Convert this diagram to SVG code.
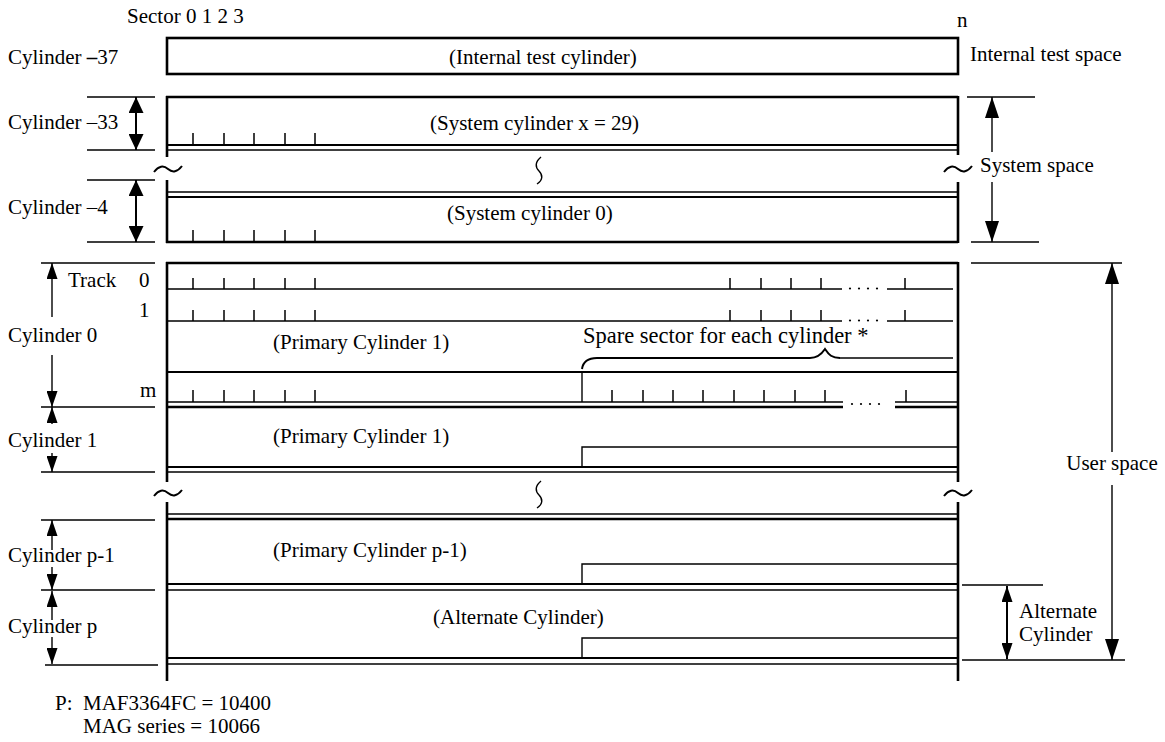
<svg xmlns="http://www.w3.org/2000/svg" width="1165" height="742" viewBox="0 0 1165 742">
<style>
.t{font-family:"Liberation Serif","Times New Roman",serif;font-size:21px;fill:#000}
.k{stroke:#000;stroke-width:2.6;fill:none}
.m{stroke:#000;stroke-width:2;fill:none}
.n{stroke:#000;stroke-width:1.4;fill:none}
.tk{stroke:#000;stroke-width:1.5;fill:none}
.dot{fill:#000}
</style>
<defs>
<marker id="aB" markerUnits="userSpaceOnUse" markerWidth="16" markerHeight="15" refX="16" refY="7.5" orient="auto-start-reverse"><path d="M0,0 L16,7.5 L0,15 z" fill="#000"/></marker>
<marker id="aS" markerUnits="userSpaceOnUse" markerWidth="16" markerHeight="11" refX="16" refY="5.5" orient="auto-start-reverse"><path d="M0,0 L16,5.5 L0,11 z" fill="#000"/></marker>
<marker id="aR" markerUnits="userSpaceOnUse" markerWidth="21" markerHeight="14" refX="21" refY="7" orient="auto-start-reverse"><path d="M0,0 L21,7 L0,14 z" fill="#000"/></marker>
</defs>
<rect width="1165" height="742" fill="#fff"/>

<g id="header">
<text class="t" x="127" y="23">Sector 0 1 2 3</text>
<text class="t" x="957" y="27">n</text>
</g>

<g id="cyl-37">
<rect class="k" x="167" y="38" width="791" height="36"/>
<text class="t" x="8" y="64">Cylinder <tspan font-weight="bold">–</tspan>37</text>
<text class="t" x="449" y="64">(Internal test cylinder)</text>
<text class="t" x="970" y="61">Internal test space</text>
</g>

<g id="cyl-33">
<path class="k" d="M166,97 H958 M167,96 V157 M958,96 V155"/>
<path class="m" d="M166,145 H958"/>
<path class="n" d="M166,150 H958"/>
<path class="tk" d="M193,133 V145 M224,133 V145 M254,133 V145 M285,133 V145 M315,133 V145"/>
<text class="t" x="8" y="129">Cylinder –33</text>
<text class="t" x="430" y="130">(System cylinder x = 29)</text>
</g>

<g id="break-system">
<path class="m" d="M154,172 q7,-9 14,-3 q7,6 14,-3"/>
<path class="m" d="M944,172 q7,-9 14,-3 q7,6 14,-3"/>
<path class="n" d="M541,157 c-6,5 -6,10 -2,14 c4,4 4,9 -2,13"/>
</g>

<g id="cyl-4">
<path class="k" d="M167,180 V243 M958,182 V243 M166,242 H958"/>
<path class="n" d="M166,192 H958"/>
<path class="m" d="M166,197 H958"/>
<path class="tk" d="M193,230 V242 M224,230 V242 M254,230 V242 M285,230 V242 M315,230 V242"/>
<text class="t" x="8" y="214">Cylinder –4</text>
<text class="t" x="447" y="220">(System cylinder 0)</text>
</g>

<g id="frame">
<path class="k" d="M167,262 V482 M958,262 V482 M167,502 V681 M958,502 V681"/>
</g>

<g id="cyl0">
<path class="k" d="M166,263 H958"/>
<path class="n" d="M166,289 H842 M887,289 H953 M166,321 H842 M887,321 H953"/>
<path class="tk" d="M193,278 V289 M224,278 V289 M254,278 V289 M285,278 V289 M315,278 V289 M730,278 V289 M761,278 V289 M791,278 V289 M821,278 V289 M905,278 V289"/>
<path class="tk" d="M193,310 V321 M224,310 V321 M254,310 V321 M285,310 V321 M315,310 V321 M730,310 V321 M761,310 V321 M791,310 V321 M821,310 V321 M905,310 V321"/>
<g class="dot"><circle cx="850" cy="288.5" r="1.1"/><circle cx="859" cy="288.5" r="1.1"/><circle cx="868" cy="288.5" r="1.1"/><circle cx="877" cy="288.5" r="1.1"/>
<circle cx="850" cy="320.5" r="1.1"/><circle cx="859" cy="320.5" r="1.1"/><circle cx="868" cy="320.5" r="1.1"/><circle cx="877" cy="320.5" r="1.1"/></g>
<path class="m" d="M166,372 H958"/>
<path class="m" d="M582,369 C583,362 587,358 597,358 L810,358 C817,358 821,355 825,349 C829,355 832,358 840,358"/>
<path class="n" d="M840,358 H953"/>
<path class="n" d="M582,372 V402"/>
<path class="tk" d="M193,390 V402 M224,390 V402 M254,390 V402 M285,390 V402 M315,390 V402 M612,390 V402 M643,390 V402 M673,390 V402 M703,390 V402 M734,390 V402 M764,390 V402 M795,390 V402 M825,390 V402 M906,390 V402"/>
<path class="n" d="M166,402 H843 M895,402 H958"/>
<path class="k" d="M166,407 H843 M895,407 H958"/>
<g class="dot"><circle cx="852" cy="404" r="1.1"/><circle cx="861" cy="404" r="1.1"/><circle cx="870" cy="404" r="1.1"/><circle cx="879" cy="404" r="1.1"/></g>
<text class="t" x="68" y="287">Track</text>
<text class="t" x="139" y="287">0</text>
<text class="t" x="139" y="317">1</text>
<text class="t" x="8" y="342">Cylinder 0</text>
<text class="t" x="140" y="397">m</text>
<text class="t" x="273" y="349">(Primary Cylinder 1)</text>
<text class="t" x="583" y="343" style="font-size:22.5px">Spare sector for each cylinder *</text>
</g>

<g id="cyl1">
<path class="n" d="M582,467 V447 H958"/>
<path class="m" d="M166,467 H958"/>
<path class="n" d="M166,472 H958"/>
<text class="t" x="8" y="447">Cylinder 1</text>
<text class="t" x="273" y="443">(Primary Cylinder 1)</text>
</g>

<g id="break-user">
<path class="m" d="M154,496 q7,-9 14,-3 q7,6 14,-3"/>
<path class="m" d="M944,496 q7,-9 14,-3 q7,6 14,-3"/>
<path class="n" d="M541,481 c-6,5 -6,10 -2,14 c4,4 4,9 -2,13"/>
<path class="n" d="M166,514 H958"/>
<path class="k" d="M166,519 H958"/>
</g>

<g id="cyl-p-1">
<path class="n" d="M582,584 V564 H958"/>
<path class="m" d="M166,584 H958"/>
<path class="n" d="M166,590 H958"/>
<text class="t" x="8" y="562">Cylinder p-1</text>
<text class="t" x="273" y="557">(Primary Cylinder p-1)</text>
</g>

<g id="cyl-p">
<path class="n" d="M582,658 V638 H958"/>
<path class="m" d="M166,658 H958"/>
<path class="n" d="M166,664 H958"/>
<text class="t" x="8" y="633">Cylinder p</text>
<text class="t" x="433" y="624">(Alternate Cylinder)</text>
</g>

<g id="spaces">
<text class="t" x="980" y="172">System space</text>
<text class="t" x="1112" y="470" text-anchor="middle">User space</text>
<text class="t" x="1019" y="618">Alternate</text>
<text class="t" x="1019" y="641">Cylinder</text>
</g>

<g id="note">
<text class="t" x="55" y="710">P:<tspan x="83">MAF3364FC = 10400</tspan></text>
<text class="t" x="83" y="733">MAG series = 10066</text>
</g>

<g id="connectors">
<path class="n" d="M87,97 H155 M87,150 H155 M87,180 H155 M87,242 H155"/>
<path class="n" d="M41,263 H155 M41,407 H155 M41,472 H155 M41,520 H155 M41,590 H155 M45,665 H158"/>
<path class="n" d="M967,97 H1035 M971,242 H1039 M971,263 H1122 M962,585 H1043 M962,660 H1125"/>
<path class="m" d="M136,150 V97" marker-start="url(#aB)" marker-end="url(#aB)"/>
<path class="m" d="M136,242 V180" marker-start="url(#aB)" marker-end="url(#aB)"/>
<path class="n" d="M52,317 V263" marker-end="url(#aS)"/>
<path class="n" d="M52,355 V407" marker-end="url(#aS)"/>
<path class="n" d="M52,424 V407" marker-end="url(#aS)"/>
<path class="n" d="M52,453 V472" marker-end="url(#aS)"/>
<path class="n" d="M52,550 V520" marker-end="url(#aS)"/>
<path class="n" d="M52,567 V590" marker-end="url(#aS)"/>
<path class="n" d="M52,620 V591" marker-end="url(#aS)"/>
<path class="n" d="M52,637 V664" marker-end="url(#aS)"/>
<path class="n" d="M992,152 V97" marker-end="url(#aR)"/>
<path class="n" d="M992,182 V242" marker-end="url(#aR)"/>
<path class="n" d="M1112,452 V263" marker-end="url(#aR)"/>
<path class="n" d="M1112,485 V660" marker-end="url(#aR)"/>
<path class="m" d="M1007,586 V659" marker-start="url(#aS)" marker-end="url(#aS)"/>
</g>
</svg>
